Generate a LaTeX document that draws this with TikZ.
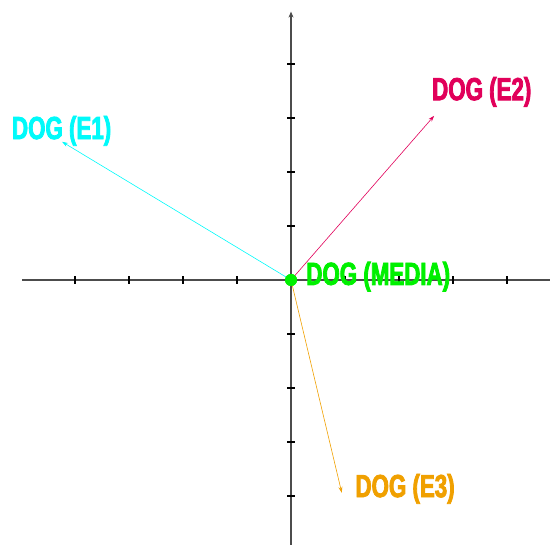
\documentclass[tikz,border=0pt]{standalone}
\usepackage{fontspec}
\newfontfamily\dogfont[FakeStretch=0.7, FakeBold=2.5]{Liberation Sans}
\usetikzlibrary{arrows.meta}
\definecolor{ccyan}{RGB}{0,250,250}
\definecolor{ccrimson}{RGB}{225,0,90}
\definecolor{corange}{RGB}{240,160,0}
\definecolor{cgreen}{RGB}{0,240,0}
\tikzset{
  axis/.style={draw=black!70, line width=1.4bp},
  tickmark/.style={draw=black, line width=1.1bp},
  vec/.style={-{Stealth[length=6bp, width=4bp]}, line width=0.6bp},
  word/.style={font=\dogfont\bfseries\fontsize{32}{34}\selectfont, inner sep=0pt, anchor=base west},
}

\begin{document}
\begin{tikzpicture}[x=54bp, y=54bp]
  \useasboundingbox (-5.389,-4.907) rectangle (4.796,5.185);
  % axes
  \draw[axis] (-4.98,0) -- (4.796,0);
  \draw[axis, -{Stealth[length=6bp, width=5bp]}] (0,-4.907) -- (0,4.97);
  \foreach \i in {-4,-3,-2,-1,1,2,3,4} {
    \draw[tickmark] (\i,-0.07) -- (\i,0.07);
    \draw[tickmark] (-0.07,\i) -- (0.07,\i);
  }
  % word vectors
  \node[circle, fill=cgreen, inner sep=0pt, minimum size=12bp] (media) at (0,0) {};
  \coordinate (e1) at (-4.24,2.56);
  \coordinate (e2) at (2.65,3.04);
  \coordinate (e3) at (0.94,-3.94);
  \draw[vec, ccyan] (media.center) -- (e1);
  \draw[vec, ccrimson] (media.center) -- (e2);
  \draw[vec, corange] (media.center) -- (e3);
  \node[circle, fill=cgreen, inner sep=0pt, minimum size=12bp] at (media) {};
  % labels
  \node[word, text=ccyan] (lab1) at (-5.17,2.61) {DOG (E1)};
  \node[word, text=ccrimson] (lab2) at (2.61,3.33) {DOG (E2)};
  \node[word, text=corange] (lab3) at (1.19,-4.02) {DOG (E3)};
  \node[word, text=cgreen] (labm) at (0.28,-0.09) {DOG (MEDIA)};
\end{tikzpicture}
\end{document}
